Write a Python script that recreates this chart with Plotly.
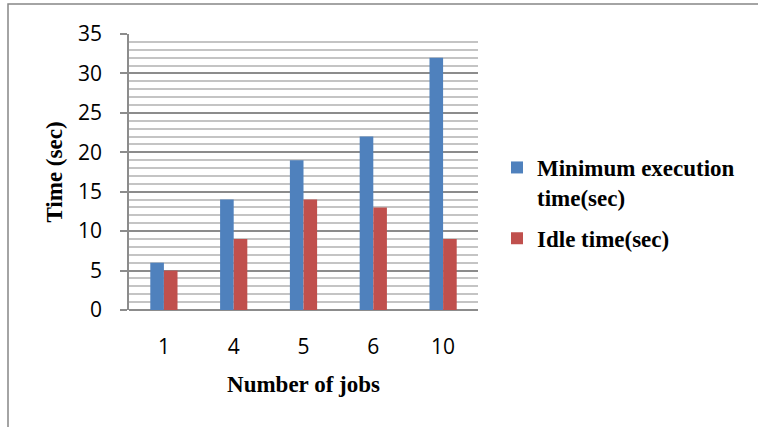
import plotly.graph_objects as go

categories = ["1", "4", "5", "6", "10"]
min_exec = [6, 14, 19, 22, 32]
idle = [5, 9, 14, 13, 9]
series_names = ["Minimum execution<br>time(sec)", "Idle time(sec)"]
y_ticks = [0, 5, 10, 15, 20, 25, 30, 35]

W, H = 758, 427
L, R, T, B = 129, 280, 34, 117

fig = go.Figure()
fig.add_trace(go.Bar(x=categories, y=min_exec, name=series_names[0], legendgroup="a",
                     marker=dict(color="#4f81bd", line=dict(width=0))))
fig.add_trace(go.Bar(x=categories, y=idle, name=series_names[1], legendgroup="b",
                     marker=dict(color="#c0504d", line=dict(width=0))))

serif = "Liberation Serif"
sans = "Open Sans"
pw = W - L - R
ph = H - T - B

fig.update_layout(
    width=W, height=H,
    margin=dict(l=L, r=R, t=T, b=B, pad=0),
    paper_bgcolor="white", plot_bgcolor="white",
    barmode="group", bargap=0.61, bargroupgap=0,
    showlegend=True,
    legend=dict(
        x=(497 - L) / pw, y=(310 - 146) / ph, xanchor="left", yanchor="top",
        font=dict(family=serif, size=23, color="black", weight="bold"),
        bgcolor="rgba(0,0,0,0)", itemwidth=30, traceorder="grouped",
        tracegroupgap=8, valign="top",
    ),
    xaxis=dict(
        type="category", showline=False, ticks="", showgrid=False,
        tickfont=dict(family=sans, size=21, color="black"),
        ticklabelstandoff=22,
        title=dict(text="<b>Number of jobs</b>", standoff=16,
                   font=dict(family=serif, size=23, color="black")),
    ),
    yaxis=dict(
        range=[0, 35], tickvals=y_ticks, ticktext=[str(v) for v in y_ticks],
        showline=True, linecolor="#8c8c8c", linewidth=1.5,
        ticks="outside", ticklen=7, tickcolor="#8c8c8c", tickwidth=1.5,
        showgrid=True, gridcolor="#8c8c8c", gridwidth=1.5,
        zeroline=True, zerolinecolor="#8c8c8c", zerolinewidth=1.5,
        minor=dict(dtick=1, showgrid=True, gridcolor="#c4c4c4", gridwidth=1.5),
        tickfont=dict(family=sans, size=21, color="black"),
        ticklabelstandoff=14,
        title=dict(text="<b>Time (sec)</b>", standoff=9,
                   font=dict(family=serif, size=23, color="black")),
    ),
    shapes=[dict(type="rect", xref="paper", yref="paper",
                 x0=(8 - L) / pw, x1=(W + 12 - L) / pw,
                 y0=(-B - 12) / ph, y1=(H - B - 4) / ph,
                 line=dict(color="#878787", width=1.5), fillcolor="rgba(0,0,0,0)",
                 layer="below")],
)

fig.write_html("out.html")
